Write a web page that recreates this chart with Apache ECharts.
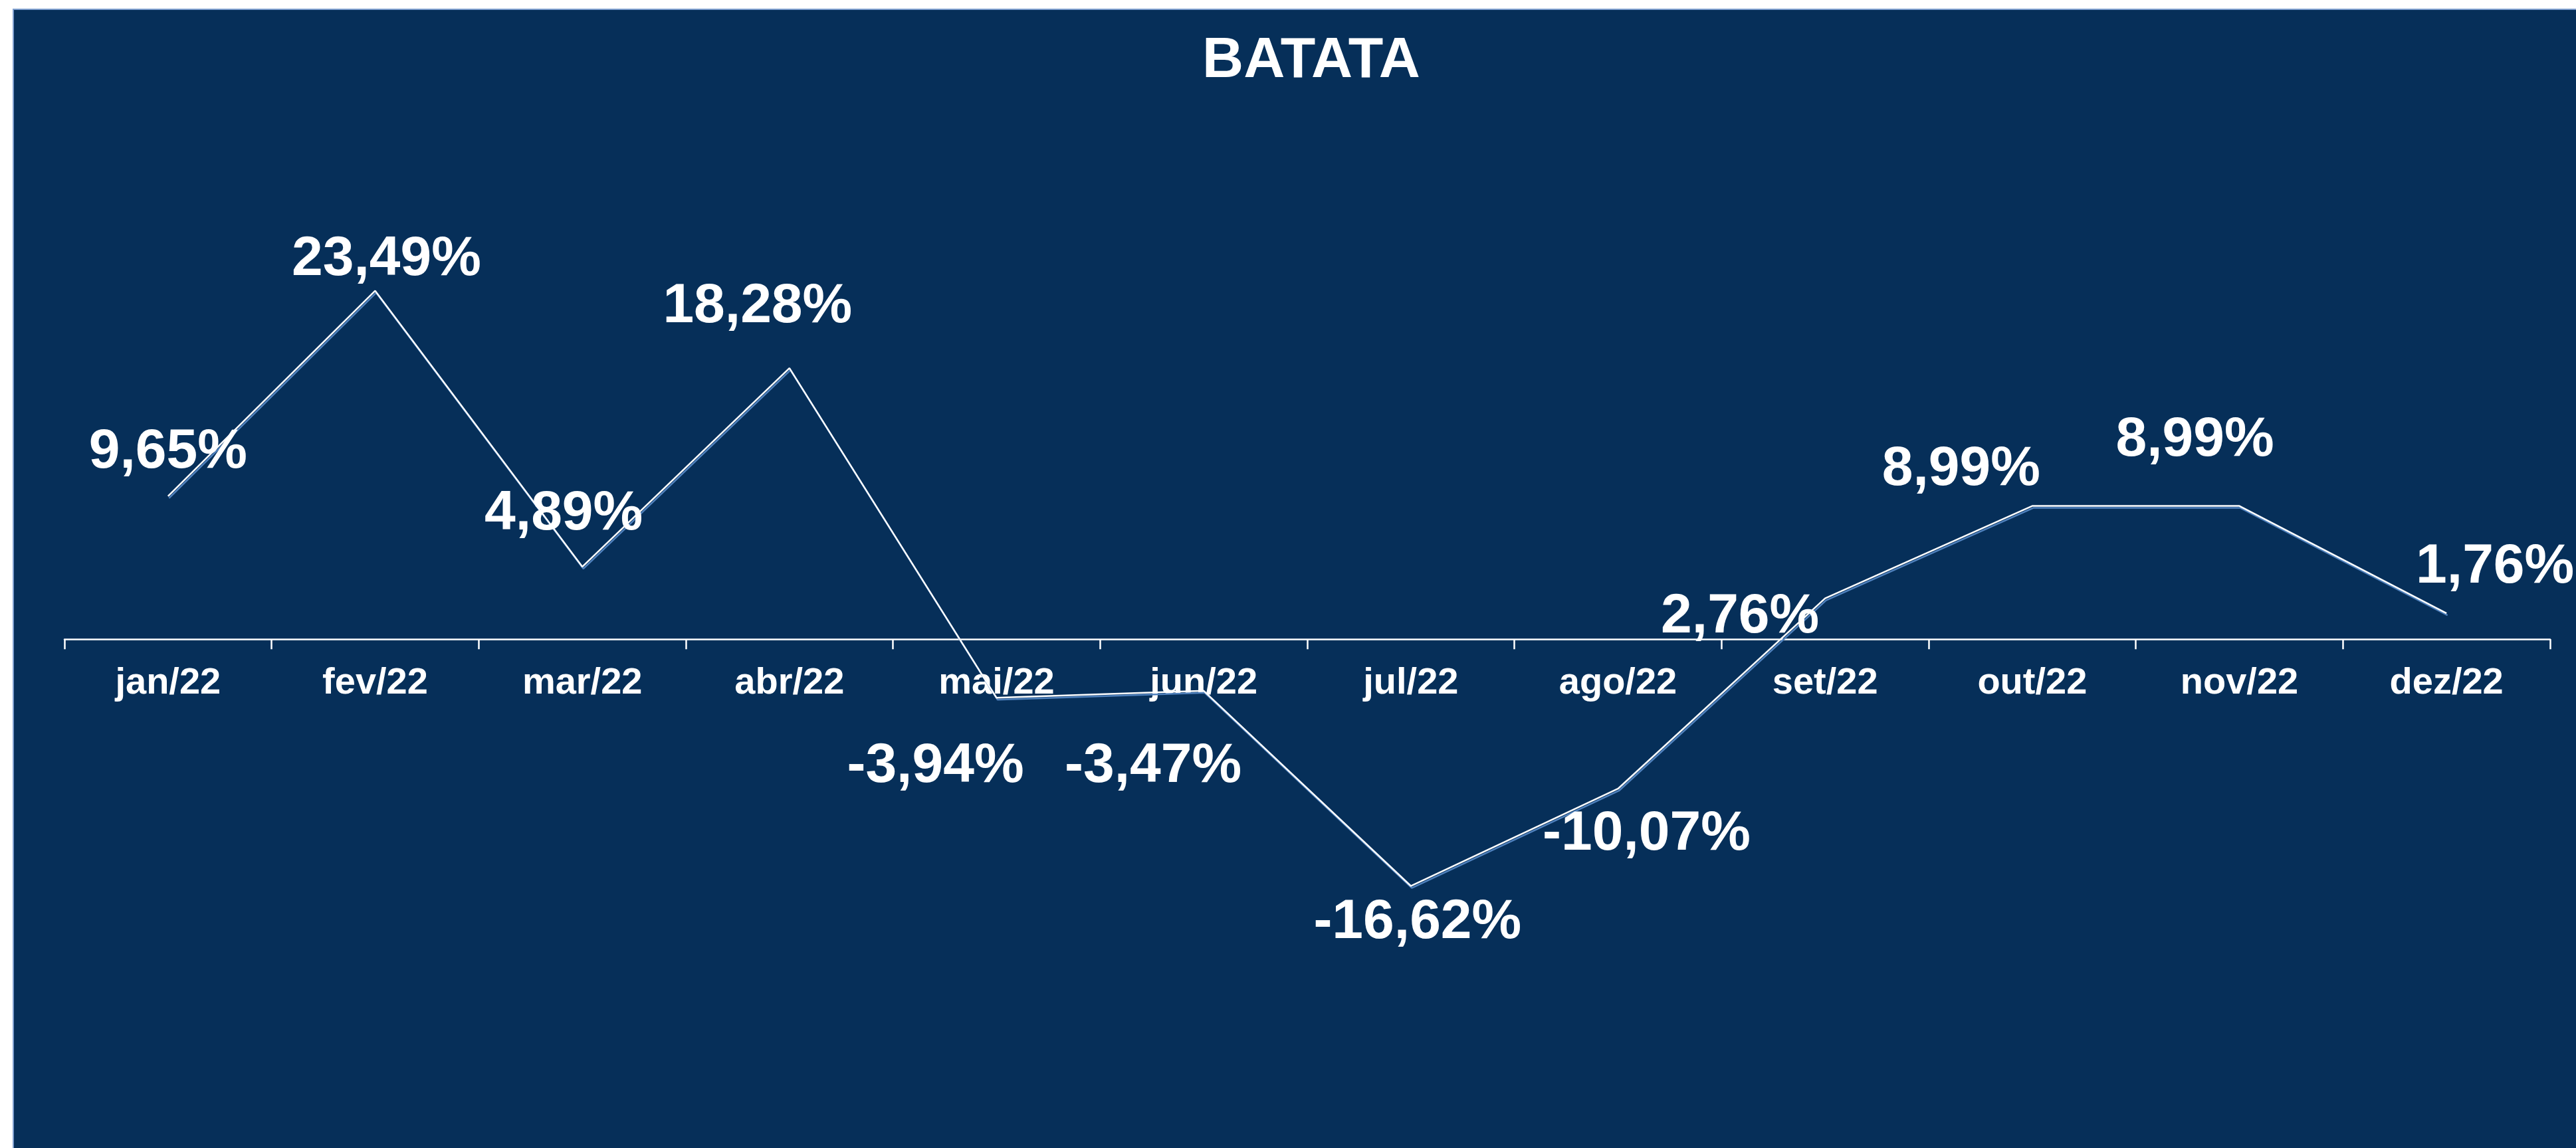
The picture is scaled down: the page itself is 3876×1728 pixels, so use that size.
<!DOCTYPE html>
<html>
<head>
<meta charset="utf-8">
<title>BATATA</title>
<script src="https://cdn.jsdelivr.net/npm/echarts@6/dist/echarts.min.js"></script>
<style>
  html, body { margin: 0; padding: 0; background: #ffffff; }
  #chart { width: 3876px; height: 1728px; }
</style>
</head>
<body>
<div id="chart"></div>
<script>
// dados
const titleText = 'BATATA';
const months = ['jan/22', 'fev/22', 'mar/22', 'abr/22', 'mai/22', 'jun/22',
                'jul/22', 'ago/22', 'set/22', 'out/22', 'nov/22', 'dez/22'];
const variation = [9.65, 23.49, 4.89, 18.28, -3.94, -3.47, -16.62, -10.07, 2.76, 8.99, 8.99, 1.76];

// deslocamento de cada rótulo em relação ao ponto (px)
const labelOffsets = [
  [0, -66], [17, -47], [-28, -79], [-48, -92], [-92, 104], [-76, 114],
  [10, 55], [43, 69], [-128, 28], [-107, -55], [-67, -99], [73, -69]
];

const navy = '#062f59';
const font = '"Liberation Sans", Arial, sans-serif';

// escala: -20..25 em 1005 px, zero em y=962
const yMin = -20, yMax = 25;
const gridTop = 404, gridBottom = 319;
const plotH = 1728 - gridTop - gridBottom;
const zeroShift = plotH * (0 - yMin) / (yMax - yMin);

const chart = echarts.init(document.getElementById('chart'));

const seriesData = variation.map((v, i) => ({
  value: v,
  label: { offset: labelOffsets[i] }
}));

const option = {
  animation: false,
  backgroundColor: '#ffffff',
  graphic: [{
    type: 'rect',
    z: -10,
    shape: { x: 20, y: 14, width: 3880, height: 1730 },
    style: { fill: navy, stroke: '#7f9fcf', lineWidth: 2 }
  }],
  title: {
    text: titleText,
    left: 1968,
    textAlign: 'center',
    top: 44,
    textStyle: { color: '#ffffff', fontSize: 86, fontWeight: 'bold', fontFamily: font }
  },
  grid: { left: 97, right: 39, top: gridTop, bottom: gridBottom },
  xAxis: {
    type: 'category',
    data: months,
    boundaryGap: true,
    offset: -zeroShift,
    axisLine: { onZero: false, lineStyle: { color: '#ffffff', width: 2.5 } },
    axisTick: { show: true, length: 15, lineStyle: { color: '#ffffff', width: 2.5 } },
    axisLabel: { color: '#ffffff', fontSize: 56, fontWeight: 'bold', fontFamily: font, margin: 38 },
    splitLine: { show: false }
  },
  yAxis: {
    type: 'value',
    min: yMin,
    max: yMax,
    interval: 5,
    show: false,
    splitLine: { show: false }
  },
  series: [{
    type: 'line',
    data: seriesData,
    symbol: 'circle',
    symbolSize: 1,
    itemStyle: { color: 'rgba(0,0,0,0)' },
    lineStyle: {
      color: '#ffffff',
      width: 2.5,
      shadowColor: '#4f81bd',
      shadowBlur: 0,
      shadowOffsetX: 1.5,
      shadowOffsetY: 3
    },
    label: {
      show: true,
      position: 'inside',
      align: 'center',
      verticalAlign: 'middle',
      color: '#ffffff',
      fontSize: 84,
      fontWeight: 'bold',
      fontFamily: font,
      formatter: p => p.value.toFixed(2).replace('.', ',') + '%'
    },
    emphasis: { disabled: true }
  }]
};

chart.setOption(option);
</script>
</body>
</html>
